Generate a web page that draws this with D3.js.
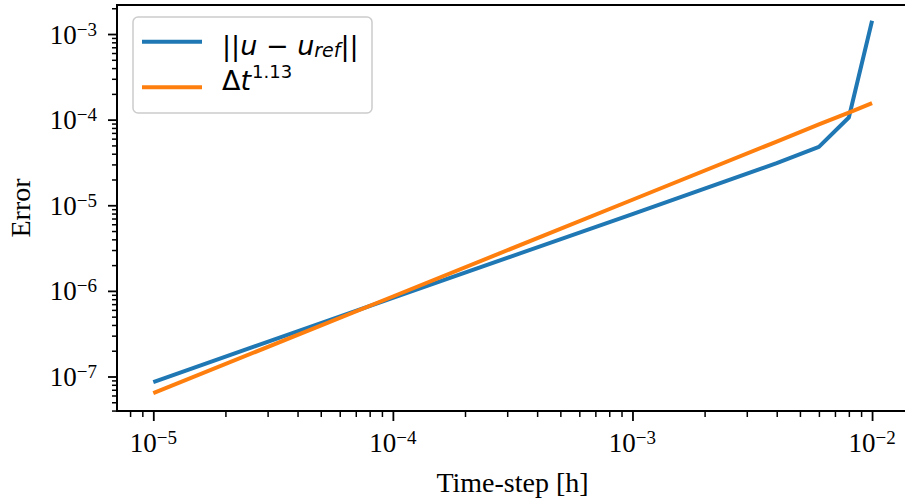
<!DOCTYPE html>
<html>
<head>
<meta charset="utf-8">
<script src="https://cdn.jsdelivr.net/npm/d3@7"></script>
<style>
  body { margin: 0; background: #fff; }
  svg { display: block; }
  .tick-label { font-family: "Liberation Serif", serif; font-size: 27px; fill: #000; }
  .axis-label { font-family: "Liberation Serif", serif; font-size: 28px; fill: #000; }
  .legend-text { font-family: "DejaVu Sans", sans-serif; font-size: 27px; fill: #000; }
  .series { fill: none; stroke-width: 4; stroke-linejoin: round; }
</style>
</head>
<body>
<svg width="905" height="499"></svg>
<script>
// time steps and errors
const timeSteps = [1e-5, 1e-4, 1e-3, 4e-3, 6e-3, 8e-3, 1e-2];
const errorRef  = [8.6e-8, 8.3e-7, 7.9e-6, 3.1e-5, 4.8e-5, 1.06e-4, 1.43e-3];
const errorFit  = [6.4e-8, 8.6e-7, 1.16e-5, 5.55e-5, 8.8e-5, 1.21e-4, 1.56e-4];

const xMajor = [-5, -4, -3, -2];
const yMajor = [-7, -6, -5, -4, -3];

const colors = ["#1f77b4", "#ff7f0e"];

const margin = { left: 117, right: 908, top: 5, bottom: 411 };

const svg = d3.select("svg");

const x = d3.scaleLog()
    .domain([Math.pow(10, -5.1515), Math.pow(10, -1.85)])
    .range([margin.left, margin.right]);

const y = d3.scaleLog()
    .domain([Math.pow(10, -7.403), Math.pow(10, -2.661)])
    .range([margin.bottom, margin.top]);

const isMajor = (v) => Math.abs(Math.log10(v) - Math.round(Math.log10(v))) < 1e-9;

const xTicks = x.ticks();
const yTicks = y.ticks();

// minor ticks
svg.append("g")
    .attr("transform", `translate(0,${margin.bottom})`)
    .call(d3.axisBottom(x).tickValues(xTicks.filter((d) => !isMajor(d)))
        .tickSize(6).tickFormat(""))
    .call((g) => g.select(".domain").remove())
    .selectAll("line").attr("stroke-width", 1.5);

svg.append("g")
    .attr("transform", `translate(${margin.left},0)`)
    .call(d3.axisLeft(y).tickValues(yTicks.filter((d) => !isMajor(d)))
        .tickSize(5).tickFormat(""))
    .call((g) => g.select(".domain").remove())
    .selectAll("line").attr("stroke-width", 1.5);

// major ticks
svg.append("g")
    .attr("transform", `translate(0,${margin.bottom})`)
    .call(d3.axisBottom(x).tickValues(xMajor.map((e) => Math.pow(10, e)))
        .tickSize(10).tickFormat(""))
    .call((g) => g.select(".domain").remove())
    .selectAll("line").attr("stroke-width", 1.8);

svg.append("g")
    .attr("transform", `translate(${margin.left},0)`)
    .call(d3.axisLeft(y).tickValues(yMajor.map((e) => Math.pow(10, e)))
        .tickSize(9).tickFormat(""))
    .call((g) => g.select(".domain").remove())
    .selectAll("line").attr("stroke-width", 1.8);

function powerLabel(sel, e) {
    sel.append("tspan").text("10");
    sel.append("tspan")
        .attr("dy", -8)
        .attr("font-size", 19)
        .text("\u2212" + Math.abs(e));
}

svg.selectAll(".xtl")
    .data(xMajor)
    .enter().append("text")
    .attr("class", "tick-label")
    .attr("x", (d) => x(Math.pow(10, d)))
    .attr("y", 452)
    .attr("text-anchor", "middle")
    .each(function (d) { powerLabel(d3.select(this), d); });

svg.selectAll(".ytl")
    .data(yMajor)
    .enter().append("text")
    .attr("class", "tick-label")
    .attr("x", 97)
    .attr("y", (d) => y(Math.pow(10, d)) + 9.5)
    .attr("text-anchor", "end")
    .each(function (d) { powerLabel(d3.select(this), d); });

// series
const line = d3.line()
    .x((d) => x(d[0]))
    .y((d) => y(d[1]));

const series = [errorRef, errorFit];
svg.selectAll(".series")
    .data(series)
    .enter().append("path")
    .attr("class", "series")
    .attr("stroke", (d, i) => colors[i])
    .attr("d", (d) => line(timeSteps.map((t, i) => [t, d[i]])));

// spines
svg.append("path")
    .attr("d", `M${margin.right},${margin.top}H${margin.left}V${margin.bottom}H${margin.right}`)
    .attr("fill", "none")
    .attr("stroke", "#000")
    .attr("stroke-width", 2);

// axis labels
svg.append("text")
    .attr("class", "axis-label")
    .attr("x", (margin.left + margin.right) / 2)
    .attr("y", 492)
    .attr("text-anchor", "middle")
    .text("Time-step [h]");

svg.append("text")
    .attr("class", "axis-label")
    .attr("transform", `translate(30,${(margin.top + margin.bottom) / 2}) rotate(-90)`)
    .attr("text-anchor", "middle")
    .text("Error");

// legend
const legend = svg.append("g");
legend.append("rect")
    .attr("x", 133).attr("y", 17)
    .attr("width", 239).attr("height", 96)
    .attr("rx", 5)
    .attr("fill", "#fff").attr("fill-opacity", 0.8)
    .attr("stroke", "#cccccc").attr("stroke-width", 1.5);

const legendY = [41.7, 87.3];
legend.selectAll(".legend-line")
    .data(colors)
    .enter().append("line")
    .attr("x1", 142).attr("x2", 202)
    .attr("y1", (d, i) => legendY[i]).attr("y2", (d, i) => legendY[i])
    .attr("stroke", (d) => d)
    .attr("stroke-width", 4);

const t1 = legend.append("text")
    .attr("class", "legend-text")
    .attr("x", 222).attr("y", 55);
t1.append("tspan").text("||");
t1.append("tspan").attr("font-style", "italic").text("u");
t1.append("tspan").text(" \u2212 ");
t1.append("tspan").attr("font-style", "italic").text("u");
t1.append("tspan").attr("font-style", "italic").attr("font-size", 19).attr("dy", 2).text("ref");
t1.append("tspan").attr("dy", -2).text("||");

const t2 = legend.append("text")
    .attr("class", "legend-text")
    .attr("x", 222).attr("y", 90);
t2.append("tspan").text("\u0394");
t2.append("tspan").attr("font-style", "italic").text("t");
t2.append("tspan").attr("font-size", 18).attr("dy", -12).attr("dx", 1).text("1.13");
</script>
</body>
</html>
